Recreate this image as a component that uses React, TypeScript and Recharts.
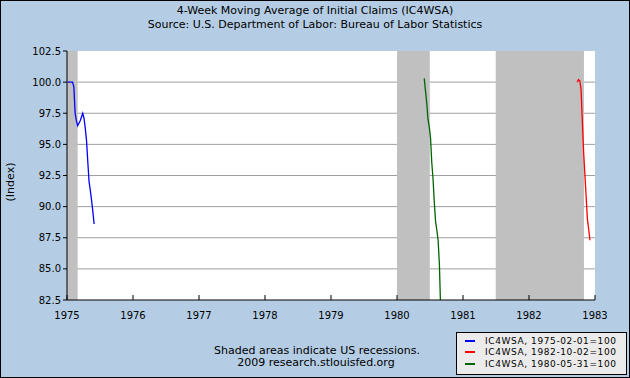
import React from "react";
import {
  LineChart,
  Line,
  XAxis,
  YAxis,
  CartesianGrid,
  ReferenceArea,
} from "recharts";

const yearTicks = [1975, 1976, 1977, 1978, 1979, 1980, 1981, 1982, 1983];
const indexTicks = [82.5, 85, 87.5, 90, 92.5, 95, 97.5, 100, 102.5];
const gridValues = [85, 87.5, 90, 92.5, 95, 97.5, 100];

// NBER recessions visible in the window
const recessionStarts = ["1975-01-01", "1980-01-01", "1981-07-01"];
const recessionEnds = ["1975-03-01", "1980-07-01", "1982-11-01"];

const seriesNames = [
  "IC4WSA, 1975-02-01=100",
  "IC4WSA, 1982-10-02=100",
  "IC4WSA, 1980-05-31=100",
];
const seriesColors = ["#0000ff", "#ff0000", "#006400"];
// first weekly observation drawn for each series
const seriesFirstWeek = ["1975-01-04", "1982-09-25", "1980-05-31"];

const blueValues = [
  100, 100, 100, 100, 100, 99.6, 97.5, 96.9, 96.5, 96.7, 96.9, 97.2, 97.5,
  97.1, 96.3, 95.3, 93.6, 92.0, 91.3, 90.5, 89.6, 88.6,
];
const redValues = [100.0, 100.2, 100.1, 99.4, 96.8, 94.4, 92.6, 90.8, 89.0, 88.2, 87.3];
const greenValues = [
  100.3, 99.3, 98.3, 97.0, 96.4, 95.5, 93.5, 92.2, 90.3, 88.8, 88.1, 87.3, 85.4,
  81.8, 80.0,
];

const seriesValues = [blueValues, redValues, greenValues];

const DAY = 86400000;

function toYear(ms: number) {
  const y = new Date(ms).getUTCFullYear();
  const start = Date.UTC(y, 0, 1);
  const end = Date.UTC(y + 1, 0, 1);
  return y + (ms - start) / (end - start);
}

function dateMs(s: string) {
  const [y, m, d] = s.split("-").map(Number);
  return Date.UTC(y, m - 1, d);
}

function weekly(first: string, values: number[]) {
  const t0 = dateMs(first);
  return values.map((v, i) => ({ x: toYear(t0 + i * 7 * DAY), v }));
}

const font = "'DejaVu Sans', Verdana, sans-serif";

export default function App() {
  return (
    <div
      style={{
        position: "absolute",
        left: 0,
        top: 0,
        width: 630,
        height: 378,
        background: "#b4cde4",
        fontFamily: font,
        color: "#000",
      }}
    >
      <div style={{ position: "absolute", left: 0, width: 630, top: 4, textAlign: "center", fontSize: 11, lineHeight: "13px" }}>
        4-Week Moving Average of Initial Claims (IC4WSA)
      </div>
      <div style={{ position: "absolute", left: 0, width: 630, top: 18, textAlign: "center", fontSize: 11, lineHeight: "13px" }}>
        Source: U.S. Department of Labor: Bureau of Labor Statistics
      </div>

      <LineChart
        width={630}
        height={378}
        margin={{ top: 51, right: 35, left: 0, bottom: 48 }}
        style={{ position: "absolute", left: 0, top: 0, fontFamily: font }}
      >
        <CartesianGrid
          vertical={false}
          horizontalValues={gridValues}
          stroke="#a0a0a0"
          fill="#ffffff"
          fillOpacity={1}
        />
        {recessionStarts.map((s, i) => (
          <ReferenceArea
            key={s}
            x1={toYear(dateMs(s))}
            x2={toYear(dateMs(recessionEnds[i]))}
            fill="#c0c0c0"
            fillOpacity={1}
            stroke="none"
            ifOverflow="hidden"
          />
        ))}
        <XAxis
          type="number"
          dataKey="x"
          domain={[1975, 1983]}
          ticks={yearTicks}
          interval={0}
          allowDataOverflow
          height={30}
          tickSize={-5}
          tickMargin={17}
          axisLine={{ stroke: "#000" }}
          tickLine={{ stroke: "#000" }}
          tick={{ fontSize: 10, fill: "#000" }}
          tickFormatter={(v: number) => String(v)}
        />
        <YAxis
          type="number"
          domain={[82.5, 102.5]}
          ticks={indexTicks}
          interval={0}
          allowDataOverflow
          width={67}
          tickSize={4}
          tickMargin={2}
          axisLine={{ stroke: "#000" }}
          tickLine={{ stroke: "#000" }}
          tick={{ fontSize: 10, fill: "#000" }}
          tickFormatter={(v: number) => v.toFixed(1)}
        />
        {seriesValues.map((vals, i) => (
          <Line
            key={seriesNames[i]}
            data={weekly(seriesFirstWeek[i], vals)}
            dataKey="v"
            name={seriesNames[i]}
            type="linear"
            stroke={seriesColors[i]}
            strokeWidth={1.3}
            dot={false}
            activeDot={false}
            isAnimationActive={false}
          />
        ))}
      </LineChart>

      <div
        style={{
          position: "absolute",
          left: 10,
          top: 182,
          transform: "translate(-50%, -50%) rotate(-90deg)",
          fontSize: 11,
          whiteSpace: "nowrap",
        }}
      >
        (Index)
      </div>

      <div style={{ position: "absolute", left: 0, width: 634, top: 345, textAlign: "center", fontSize: 11, lineHeight: "12px" }}>
        Shaded areas indicate US recessions.
      </div>
      <div style={{ position: "absolute", left: 0, width: 632, top: 357, textAlign: "center", fontSize: 11, lineHeight: "12px" }}>
        2009 research.stlouisfed.org
      </div>

      <div
        style={{
          position: "absolute",
          left: 456,
          top: 332,
          width: 171,
          height: 43,
          boxSizing: "border-box",
          border: "1px solid #000",
          background: "#ebebeb",
          paddingTop: 2,
        }}
      >
        {seriesNames.map((n, i) => (
          <div key={n} style={{ display: "flex", alignItems: "center", height: 11.5, fontSize: 9, letterSpacing: 0.6, whiteSpace: "nowrap" }}>
            <span style={{ display: "inline-block", width: 10, height: 2, background: seriesColors[i], marginLeft: 8, marginRight: 10 }} />
            <span>{n}</span>
          </div>
        ))}
      </div>

      <div
        style={{
          position: "absolute",
          left: 0,
          top: 0,
          width: 630,
          height: 378,
          boxSizing: "border-box",
          border: "1px solid #000",
          pointerEvents: "none",
        }}
      />
    </div>
  );
}
